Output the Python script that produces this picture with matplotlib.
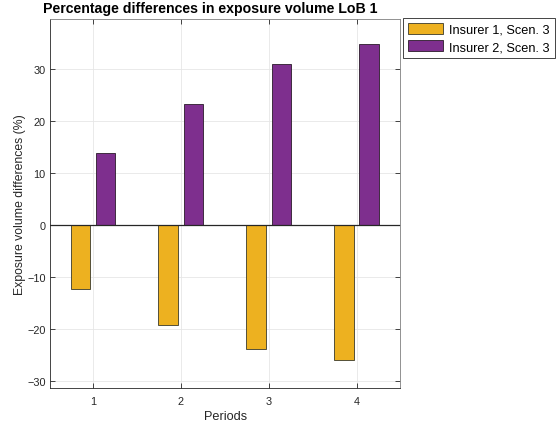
import numpy as np
import matplotlib.pyplot as plt

plt.rcParams['font.family'] = ['Liberation Sans', 'DejaVu Sans']

periods = [1, 2, 3, 4]
insurer1 = [-12.3, -19.2, -23.8, -26.0]
insurer2 = [14.0, 23.4, 31.1, 34.8]
labels = ['Insurer 1, Scen. 3', 'Insurer 2, Scen. 3']

fig = plt.figure(figsize=(5.6, 4.27), dpi=100)
ax = fig.add_axes([0.09, 0.089, 0.624, 0.865])

x = np.array(periods)
w = 0.225
ax.bar(x - 0.143, insurer1, w, color='#EDB120', edgecolor='#3a3a2a', linewidth=0.6,
       label=labels[0], zorder=3)
ax.bar(x + 0.143, insurer2, w, color='#7E2F8E', edgecolor='#2a1a2a', linewidth=0.6,
       label=labels[1], zorder=3)
ax.axhline(0, color='#262626', linewidth=0.9, zorder=4)

ax.set_xlim(0.515, 4.49)
ax.set_ylim(-31.3, 39.75)
ax.set_xticks(periods)
ax.set_yticks([-30, -20, -10, 0, 10, 20, 30])
ax.grid(True, color='#e6e6e6', linewidth=0.6, zorder=0)
ax.tick_params(direction='in', top=True, right=True, length=3.5, width=0.6,
               colors='#262626', labelsize=7.8)
ax.tick_params(axis='x', pad=6)
ax.tick_params(axis='y', pad=3.5)
for s in ax.spines.values():
    s.set_color('#808080')
    s.set_linewidth(0.6)
ax.spines['left'].set_color('#262626')
ax.spines['bottom'].set_color('#262626')

ax.set_xlabel('Periods', fontsize=9.2, color='#262626', labelpad=3)
ax.set_ylabel('Exposure volume differences (%)', fontsize=8.8, color='#262626', labelpad=1)
fig.text(0.375, 0.962, 'Percentage differences in exposure volume LoB 1',
         ha='center', va='bottom', fontsize=10.2, fontweight='bold')

leg = fig.legend(loc='upper left', bbox_to_anchor=(0.7196, 0.9555), fontsize=9.2,
                 fancybox=False, framealpha=1, edgecolor='#262626',
                 handlelength=2.7, handleheight=0.9, handletextpad=0.5,
                 borderpad=0.4, labelspacing=0.35, borderaxespad=0)
leg.get_frame().set_linewidth(0.6)

fig.savefig('out.png', dpi=100)
